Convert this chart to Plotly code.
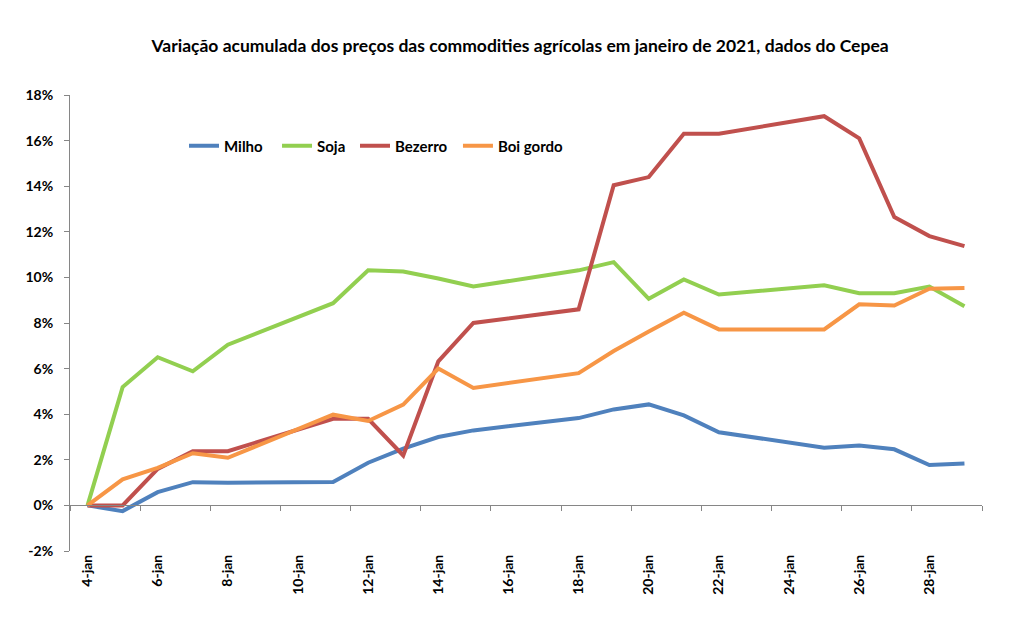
import plotly.graph_objects as go

# Business days of January 2021 (day of month)
days = [4, 5, 6, 7, 8, 11, 12, 13, 14, 15, 18, 19, 20, 21, 22, 25, 26, 27, 28, 29]

milho = [0.0, -0.25, 0.58, 1.02, 0.99, 1.03, 1.87, 2.49, 3.0, 3.29, 3.83, 4.21, 4.43, 3.95, 3.21, 2.53, 2.63, 2.46, 1.77, 1.84]
soja = [0.0, 5.19, 6.5, 5.88, 7.05, 8.87, 10.31, 10.26, 9.95, 9.6, 10.31, 10.67, 9.06, 9.91, 9.25, 9.65, 9.31, 9.31, 9.6, 8.73]
bezerro = [0.0, 0.0, 1.6, 2.38, 2.38, 3.8, 3.8, 2.19, 6.32, 8.0, 8.6, 14.04, 14.4, 16.3, 16.3, 17.07, 16.1, 12.65, 11.81, 11.37]
boi_gordo = [0.0, 1.14, 1.65, 2.29, 2.09, 3.98, 3.7, 4.42, 6.0, 5.15, 5.8, 6.77, 7.63, 8.45, 7.72, 7.72, 8.82, 8.77, 9.5, 9.53]

series_names = ["Milho", "Soja", "Bezerro", "Boi gordo"]
series_colors = ["#4F81BD", "#92CF50", "#C0504D", "#F79646"]

x_tick_days = [4, 6, 8, 10, 12, 14, 16, 18, 20, 22, 24, 26, 28]
x_tick_labels = [f"{d}-jan" for d in x_tick_days]
y_tick_vals = [-2, 0, 2, 4, 6, 8, 10, 12, 14, 16, 18]
y_tick_labels = [f"{v}%" for v in y_tick_vals]
boundary_ticks = [3.5 + 2 * i for i in range(14)]

title_text = "Variação acumulada dos preços das commodities agrícolas em janeiro de 2021, dados do Cepea"

legend_ids = ["legend", "legend2", "legend3", "legend4"]
legend_x = [0.125, 0.227, 0.3125, 0.4254]

fig = go.Figure()
for name, vals, col, lid in zip(series_names, [milho, soja, bezerro, boi_gordo], series_colors, legend_ids):
    fig.add_trace(go.Scatter(x=days, y=vals, mode="lines", name=name, legend=lid,
                             line=dict(color=col, width=4)))

# dummy trace so the zero-line axis is drawn
fig.add_trace(go.Scatter(x=[days[0]], y=[None], xaxis="x2", showlegend=False,
                         hoverinfo="skip", mode="lines"))

axis_grey = "#868686"
font_main = dict(family="Lato", size=13, color="black", weight="bold")

legend_style = dict(orientation="h", xanchor="left", y=0.888, yanchor="middle",
                    font=dict(family="Lato", size=15, color="black", weight="bold"),
                    itemwidth=30, bgcolor="rgba(0,0,0,0)")
legends = {lid: dict(legend_style, x=lx) for lid, lx in zip(legend_ids, legend_x)}

fig.update_layout(
    width=1004, height=623,
    margin=dict(l=62, r=30, t=87, b=80),
    paper_bgcolor="white", plot_bgcolor="white",
    font=font_main,
    title=dict(text=title_text, x=0.51, xanchor="center", y=0.94, yanchor="middle",
               yref="container", font=dict(family="Lato", size=17.5, color="black", weight="bold")),
    showlegend=True,
    xaxis=dict(range=[3.5, 29.5], tickmode="array", tickvals=x_tick_days, ticktext=x_tick_labels,
               tickangle=-90, ticks="", showline=False, showgrid=False, zeroline=False,
               tickfont=dict(family="Lato", size=14, color="black", weight="bold")),
    xaxis2=dict(overlaying="x", matches="x", anchor="free", position=0.1,
                range=[3.5, 29.5], tickmode="array", tickvals=boundary_ticks,
                showticklabels=False, ticks="outside", ticklen=5, tickcolor=axis_grey,
                showline=True, linecolor=axis_grey, linewidth=1, showgrid=False, zeroline=False),
    yaxis=dict(range=[-2, 18], tickmode="array", tickvals=y_tick_vals, ticktext=y_tick_labels,
               ticks="outside", ticklen=5, tickcolor=axis_grey, showline=True,
               linecolor=axis_grey, linewidth=1, showgrid=False, zeroline=False,
               ticklabelstandoff=8,
               tickfont=dict(family="Lato", size=14, color="black", weight="bold")),
    **legends,
)

fig.write_html("out.html")
